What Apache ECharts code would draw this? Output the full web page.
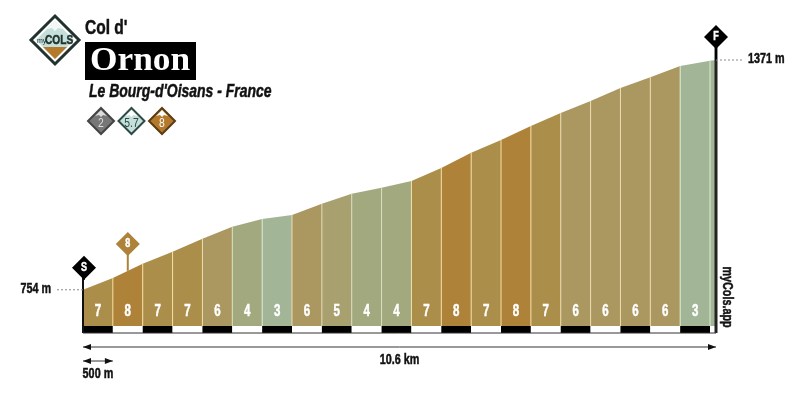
<!DOCTYPE html>
<html>
<head>
<meta charset="utf-8">
<style>
  html, body { margin: 0; padding: 0; background: #fff; }
  #chart { width: 798px; height: 396px; }
</style>
<script src="https://cdn.jsdelivr.net/npm/echarts@6/dist/echarts.min.js"></script>
</head>
<body>
<div id="chart"></div>
<script>
// distance (km) of each reading along the climb
const distances = [0, 0.5, 1, 1.5, 2, 2.5, 3, 3.5, 4, 4.5, 5, 5.5, 6, 6.5, 7, 7.5, 8, 8.5, 9, 9.5, 10, 10.5, 10.6]
// elevation (m) read from the profile
const elevations = [754, 786, 824, 856, 891, 923, 944, 955, 985, 1012, 1028, 1046, 1081, 1122, 1156, 1194, 1229, 1261, 1296, 1325, 1355, 1369, 1371]
// gradient (%) of each segment, the last short one has no label
const gradients = [7, 8, 7, 7, 6, 4, 3, 6, 5, 4, 4, 7, 8, 7, 8, 7, 6, 6, 6, 6, 3, 3]
const labelledSegments = 21
const totalLabel = '10.6 km'
const scaleLabel = '500 m'
const startLabel = '754 m'
const endLabel = '1371 m'
const difficultyLabels = ['2', '5.7', '8']

const gradeColors = {
  3: '#a2b596',
  4: '#a2a97f',
  5: '#a8a06f',
  6: '#ab9760',
  7: '#ac8e4b',
  8: '#ae8238'
}
const lineColors = {
  3: '#d8ecd2',
  4: '#d9dfc4',
  5: '#e2dcb8',
  6: '#ecdcb0',
  7: '#f3dfa8',
  8: '#f5dc9e'
}

// no condensed face is installed, so bold text is squeezed horizontally
const sans = '"Liberation Sans", sans-serif'
const MIN_ELEV = 638

function narrowText(text, x, y, size, align, fill, scale, extra) {
  return Object.assign({
    type: 'text',
    x: x,
    y: y,
    scaleX: scale || 0.72,
    style: {
      x: 0,
      y: 0,
      text: text,
      fill: fill || '#111',
      // thin outline, the original face is heavier than this bold
      stroke: fill || '#111',
      lineWidth: 0.5,
      font: 'bold ' + size + 'px ' + sans,
      align: align || 'left',
      verticalAlign: 'middle'
    }
  }, extra || {})
}

function segmentItem(params, api) {
  const i = params.dataIndex
  const x0 = api.value(0)
  const x1 = api.value(1)
  const g = gradients[i]
  const tl = api.coord([x0, api.value(2)])
  const tr = api.coord([x1, api.value(3)])
  const floor = api.coord([x0, MIN_ELEV])[1]
  const base = floor - 7
  const children = [{
    type: 'polygon',
    shape: { points: [[tl[0], base], tl, tr, [tr[0], base]] },
    style: { fill: gradeColors[g] }
  }]
  if (i > 0) {
    children.push({
      type: 'line',
      shape: { x1: tl[0], y1: tl[1], x2: tl[0], y2: base },
      style: { stroke: lineColors[g], lineWidth: 1 }
    })
  }
  if (i < labelledSegments) {
    children.push(narrowText(String(g), (tl[0] + tr[0]) / 2, base - 14, 16, 'center', '#fff', 0.72))
  }
  // checker band below the profile
  children.push({
    type: 'rect',
    shape: { x: tl[0], y: base, width: tr[0] - tl[0], height: 7 },
    style: { fill: i % 2 === 0 ? '#000' : '#fff' }
  })
  return { type: 'group', children: children }
}

function pin(x, yTop, yBottom, half, text, fill) {
  return [
    {
      type: 'line',
      shape: { x1: x, y1: yTop, x2: x, y2: yBottom },
      style: { stroke: fill, lineWidth: 2 }
    },
    {
      type: 'polygon',
      shape: { points: [[x, yTop - half], [x + half, yTop], [x, yTop + half], [x - half, yTop]] },
      style: { fill: fill }
    },
    narrowText(text, x, yTop, 12, 'center', '#fff', 0.75)
  ]
}

function arrow(x0, x1, y) {
  return [
    { type: 'line', shape: { x1: x0, y1: y, x2: x1, y2: y }, style: { stroke: '#333', lineWidth: 1 } },
    { type: 'polygon', shape: { points: [[x0, y], [x0 + 8, y - 3], [x0 + 8, y + 3]] }, style: { fill: '#111' } },
    { type: 'polygon', shape: { points: [[x1, y], [x1 - 8, y - 3], [x1 - 8, y + 3]] }, style: { fill: '#111' } }
  ]
}

function dashed(x1, x2, y) {
  return {
    type: 'line',
    shape: { x1: x1, y1: y, x2: x2, y2: y },
    style: { stroke: '#888', lineWidth: 1, lineDash: [2, 2] }
  }
}

function annotationItem(params, api) {
  const start = api.coord([distances[0], elevations[0]])
  const endIdx = distances.length - 1
  const end = api.coord([distances[endIdx], elevations[endIdx]])
  const floor = api.coord([0, MIN_ELEV])[1]
  const half = api.coord([0.5, MIN_ELEV])[0]
  const pinAt = api.coord([0.75, (elevations[1] + elevations[2]) / 2])
  let children = []
  // axis frame
  children.push({ type: 'line', shape: { x1: start[0], y1: start[1] - 22, x2: start[0], y2: floor }, style: { stroke: '#111', lineWidth: 2 } })
  children.push({ type: 'line', shape: { x1: end[0], y1: end[1] - 23, x2: end[0], y2: floor }, style: { stroke: '#222', lineWidth: 3 } })
  children.push({ type: 'line', shape: { x1: start[0], y1: floor, x2: end[0], y2: floor }, style: { stroke: '#333', lineWidth: 1 } })
  children = children.concat(pin(start[0] + 1, start[1] - 22, start[1] - 10, 12, 'S', '#000'))
  children = children.concat(pin(end[0], end[1] - 23, end[1], 12, 'F', '#000'))
  children = children.concat(pin(pinAt[0], 244, pinAt[1], 12, String(gradients[1]), '#ae8238'))
  // elevation labels
  children.push(dashed(start[0] - 26, start[0], start[1]))
  children.push(dashed(end[0], end[0] + 27, end[1]))
  children.push(narrowText(startLabel, start[0] - 32, start[1] - 1, 15, 'right'))
  children.push(narrowText(endLabel, end[0] + 32, end[1] - 1, 15, 'left'))
  // distance arrows
  children = children.concat(arrow(start[0], end[0], floor + 14))
  children = children.concat(arrow(start[0], half, floor + 28))
  children.push(narrowText(totalLabel, (start[0] + end[0]) / 2, floor + 27, 15, 'center'))
  children.push(narrowText(scaleLabel, (start[0] + half) / 2, floor + 41, 15, 'center'))
  return { type: 'group', children: children }
}

function diamond(cx, cy, half, fill, stroke, lineWidth) {
  return {
    type: 'polygon',
    shape: { points: [[cx, cy - half], [cx + half, cy], [cx, cy + half], [cx - half, cy]] },
    style: { fill: fill, stroke: stroke, lineWidth: lineWidth }
  }
}

function badge(cx, fill, stroke, peak, textFill, text) {
  return [
    diamond(cx, 121, 13, fill, stroke, 2),
    { type: 'polygon', shape: { points: [[cx, 110], [cx + 6, 116], [cx + 2, 115], [cx, 117], [cx - 2, 115], [cx - 6, 116]] }, style: { fill: peak } },
    {
      type: 'text', x: cx, y: 123, scaleX: 0.8,
      style: { x: 0, y: 0, text: text, fill: textFill, font: '13px ' + sans, align: 'center', verticalAlign: 'middle' }
    }
  ]
}

const segments = gradients.map((g, i) => [distances[i], distances[i + 1], elevations[i], elevations[i + 1]])

const logo = [
  diamond(55, 40, 24, '#fff', '#22332f', 3),
  diamond(55, 40, 19, '#c5e0da', '#c5e0da', 0),
  { type: 'polygon', shape: { points: [[55, 21], [63, 29], [58, 28], [55, 31], [52, 28], [47, 29]] }, style: { fill: '#f4f8f7' } },
  { type: 'polygon', shape: { points: [[43, 47], [67, 47], [55, 59]] }, style: { fill: '#b5792b' } },
  narrowText('COLS', 45, 40, 13, 'left', '#22332f', 0.78),
  { type: 'text', x: 37, y: 41, style: { x: 0, y: 0, text: 'my', fill: '#22332f', font: '7px ' + sans, verticalAlign: 'middle' } }
]

const chart = echarts.init(document.getElementById('chart'), null, { renderer: 'canvas' })
chart.setOption({
  animation: false,
  backgroundColor: '#fff',
  grid: { left: 83, right: 82, top: 60, bottom: 63 },
  xAxis: { type: 'value', min: 0, max: 10.6, show: false },
  yAxis: { type: 'value', min: MIN_ELEV, max: 1371, show: false },
  graphic: [
    narrowText("Col d'", 85, 28, 21, 'left', '#111', 0.74),
    { type: 'rect', shape: { x: 85, y: 42, width: 111, height: 38 }, style: { fill: '#000' } },
    {
      type: 'text', x: 90, y: 61, scaleX: 1.07,
      style: { x: 0, y: 0, text: 'Ornon', fill: '#fff', font: 'bold 33px "Liberation Serif", serif', verticalAlign: 'middle' }
    },
    {
      type: 'text', x: 89, y: 92, scaleX: 0.735,
      style: { x: 0, y: 0, text: "Le Bourg-d'Oisans - France", fill: '#111', stroke: '#111', lineWidth: 0.5, font: 'italic bold 19px ' + sans, verticalAlign: 'middle' }
    },
    narrowText('myCols.app', 727, 297, 15, 'center', '#111', 0.72, { rotation: -Math.PI / 2 })
  ].concat(
    logo,
    badge(101, '#777', '#444', '#ddd', '#ddd', difficultyLabels[0]),
    badge(131.5, '#c5e0da', '#2e4a45', '#fff', '#2e4a45', difficultyLabels[1]),
    badge(162, '#b5792b', '#5a3c14', '#fff', '#fff', difficultyLabels[2])
  ),
  series: [
    {
      type: 'custom',
      silent: true,
      renderItem: segmentItem,
      encode: { x: [0, 1], y: [2, 3] },
      data: segments
    },
    {
      type: 'custom',
      silent: true,
      renderItem: annotationItem,
      data: [[0, 0]],
      z: 5
    }
  ]
})
</script>
</body>
</html>
